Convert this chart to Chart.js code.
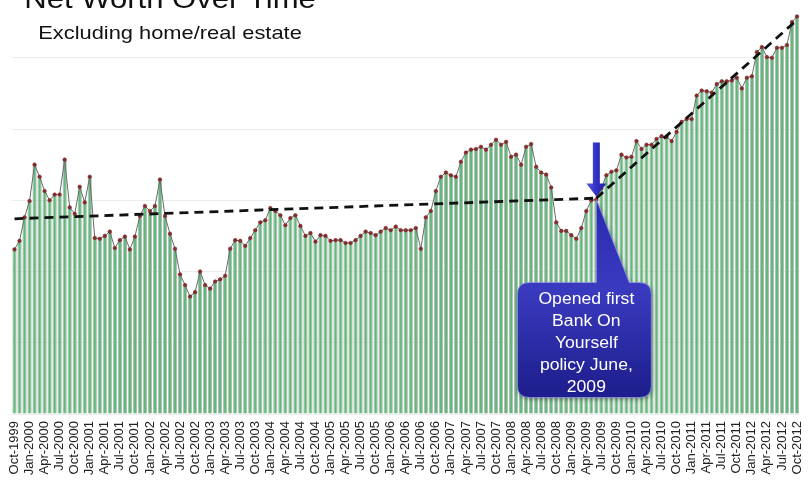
<!DOCTYPE html>
<html>
<head>
<meta charset="utf-8">
<script src="https://cdn.jsdelivr.net/npm/chart.js@4.4.1/dist/chart.umd.min.js"></script>
<style>
    html, body { margin: 0; padding: 0; background: #fff; overflow: hidden; }
    #wrap { position: absolute; left: 0; top: -18px; width: 810px; height: 501px; }
</style>
</head>
<body>
<div id="wrap"><canvas id="net_worth_chart"></canvas></div>
<script>
// monthly net worth, Oct 1999 .. Oct 2012 (no axis units shown)
const netWorth = [
    231, 243, 276, 299, 350, 333, 313, 300, 308, 308, 357, 290,
    281, 319, 297, 333, 247, 246, 250, 256, 233, 244, 249, 231,
    249, 278, 292, 285, 292, 329, 278, 253, 232, 196, 181, 165,
    171, 200, 181, 176, 186, 189, 194, 232, 244, 243, 236, 247,
    258, 269, 272, 289, 285, 279, 265, 275, 279, 264, 250, 254,
    242, 251, 250, 243, 244, 244, 240, 240, 244, 250, 256, 254,
    251, 256, 261, 258, 263, 258, 258, 258, 261, 232, 276, 285,
    313, 333, 339, 335, 333, 354, 367, 371, 372, 375, 371, 378,
    385, 378, 382, 361, 364, 350, 375, 379, 347, 339, 336, 318,
    269, 257, 257, 251, 246, 261, 285, 300, 301, 317, 335, 340,
    342, 364, 360, 361, 383, 372, 378, 378, 386, 390, 389, 383,
    396, 410, 414, 414, 447, 454, 453, 451, 463, 467, 467, 468,
    472, 457, 472, 474, 508, 515, 501, 500, 514, 514, 518, 550,
    558
];

// dashed trend lines: before and after the policy was opened
const trendBefore = [274, 303];
const trendAfter = [303, 553];
const policyMonth = "Jun-2009";

const calloutLines = ["Opened first", "Bank On", "Yourself", "policy June,", "2009"];

const monthNames = ["Jan", "Feb", "Mar", "Apr", "May", "Jun", "Jul", "Aug", "Sep", "Oct", "Nov", "Dec"];
const months = [];
for (let k = 0; k < netWorth.length; k++) {
    const m = 9 + k;
    months.push(monthNames[m % 12] + "-" + (1999 + Math.floor(m / 12)));
}
const policyIndex = months.indexOf(policyMonth);
const lastIndex = months.length - 1;

// trend datasets only have values at their two ends
const beforeData = months.map(() => null);
beforeData[0] = trendBefore[0];
beforeData[policyIndex] = trendBefore[1];
const afterData = months.map(() => null);
afterData[policyIndex] = trendAfter[0];
afterData[lastIndex] = trendAfter[1];

const FONT = "'Liberation Sans', Arial, sans-serif";

// stretched text like the original picture
drawStretched = (ctx, text, x, y, size, sx, color) => {
    ctx.save();
    ctx.translate(x, y);
    ctx.scale(sx, 1);
    ctx.font = size + "px " + FONT;
    ctx.fillStyle = color;
    ctx.textAlign = "center";
    ctx.textBaseline = "alphabetic";
    ctx.fillText(text, 0, 0);
    ctx.restore();
};

const titlePlugin = {
    id: "titles",
    afterDraw(chart) {
        const ctx = chart.ctx;
        drawStretched(ctx, "Net Worth Over Time", 170, 26, 27, 1.15, "#111");
        drawStretched(ctx, "Excluding home/real estate", 170, 57, 19, 1.15, "#111");
    }
};

const calloutPlugin = {
    id: "callout",
    afterDatasetsDraw(chart) {
        const ctx = chart.ctx;
        const pt = chart.getDatasetMeta(1).data[policyIndex];
        const px = pt.x, py = pt.y;

        // box with pointer
        const bx = px - 79, by = py + 83, bw = 134, bh = 115, r = 12;

        ctx.save();
        ctx.shadowColor = "rgba(0,0,0,0.35)";
        ctx.shadowBlur = 4;
        ctx.shadowOffsetX = 1;
        ctx.shadowOffsetY = 2;
        ctx.beginPath();
        ctx.moveTo(bx + r, by);
        ctx.lineTo(px, by);
        ctx.lineTo(px, py);
        ctx.lineTo(px + 33, by);
        ctx.lineTo(bx + bw - r, by);
        ctx.quadraticCurveTo(bx + bw, by, bx + bw, by + r);
        ctx.lineTo(bx + bw, by + bh - r);
        ctx.quadraticCurveTo(bx + bw, by + bh, bx + bw - r, by + bh);
        ctx.lineTo(bx + r, by + bh);
        ctx.quadraticCurveTo(bx, by + bh, bx, by + bh - r);
        ctx.lineTo(bx, by + r);
        ctx.quadraticCurveTo(bx, by, bx + r, by);
        ctx.closePath();
        const pgrad = ctx.createLinearGradient(0, py, 0, by + bh);
        pgrad.addColorStop(0, "#2a2ab0");
        pgrad.addColorStop(0.45, "#3a3ac0");
        pgrad.addColorStop(1, "#1d1d8c");
        ctx.fillStyle = pgrad;
        ctx.fill();
        ctx.restore();
        ctx.save();
        ctx.strokeStyle = "rgba(150,150,230,0.8)";
        ctx.lineWidth = 1;
        ctx.stroke();
        ctx.restore();

        let base = by + 21;
        calloutLines.forEach(line => {
            drawStretched(ctx, line, bx + bw / 2 + 2, base, 16, 1.1, "#ffffff");
            base += 22.2;
        });

        // down arrow
        const agrad = ctx.createLinearGradient(px - 10, 0, px + 10, 0);
        agrad.addColorStop(0, "#5a5ae0");
        agrad.addColorStop(0.5, "#3030c4");
        agrad.addColorStop(1, "#22229a");
        ctx.save();
        ctx.fillStyle = agrad;
        ctx.beginPath();
        ctx.moveTo(px - 3.5, py - 57);
        ctx.lineTo(px + 3.5, py - 57);
        ctx.lineTo(px + 3.5, py - 16);
        ctx.lineTo(px + 10, py - 16);
        ctx.lineTo(px, py - 3);
        ctx.lineTo(px - 10, py - 16);
        ctx.lineTo(px - 3.5, py - 16);
        ctx.closePath();
        ctx.fill();
        ctx.restore();
    }
};

new Chart("net_worth_chart", {
    type: "bar",
    data: {
        labels: months,
        datasets: [{
            type: "bar",
            data: netWorth,
            backgroundColor: "#62b97c",
            borderColor: "#b4bab5",
            borderWidth: { left: 1, right: 1, top: 0, bottom: 0 },
            borderSkipped: "start",
            categoryPercentage: 1.0,
            barPercentage: 0.85,
            order: 3
        }, {
            type: "line",
            data: netWorth,
            borderColor: "#6a6a6a",
            borderWidth: 1,
            tension: 0,
            pointRadius: 1.8,
            pointBackgroundColor: "#8a2c2c",
            pointBorderColor: "#6e2222",
            pointBorderWidth: 0.5,
            order: 2
        }, {
            type: "line",
            data: beforeData,
            spanGaps: true,
            borderColor: "#111",
            borderWidth: 2.8,
            borderDash: [9, 6],
            pointRadius: 0,
            order: 1
        }, {
            type: "line",
            data: afterData,
            spanGaps: true,
            borderColor: "#111",
            borderWidth: 2.8,
            borderDash: [9, 6],
            pointRadius: 0,
            order: 1
        }]
    },
    options: {
        responsive: true,
        maintainAspectRatio: false,
        animation: false,
        layout: { padding: { left: 12, right: 10.5, top: 0, bottom: 0 } },
        plugins: {
            legend: { display: false },
            tooltip: { enabled: false }
        },
        scales: {
            x: {
                offset: true,
                grid: { display: false, drawTicks: false },
                border: { display: false },
                afterFit: (axis) => {
                    axis.height = 69;
                    axis.paddingLeft = 0;
                    axis.paddingRight = 0;
                },
                ticks: {
                    autoSkip: false,
                    minRotation: 90,
                    maxRotation: 90,
                    padding: 7,
                    color: "#222",
                    font: { family: FONT, size: 13 },
                    callback: function (value, index) {
                        return index % 3 === 0 ? this.getLabelForValue(value) : "";
                    }
                }
            },
            y: {
                min: 0,
                max: 600,
                afterFit: (axis) => { axis.width = 0; },
                ticks: { display: false, stepSize: 100 },
                grid: { color: "#ececec", lineWidth: 1, drawTicks: false },
                border: { display: false }
            }
        }
    },
    plugins: [titlePlugin, calloutPlugin]
});
</script>
</body>
</html>
